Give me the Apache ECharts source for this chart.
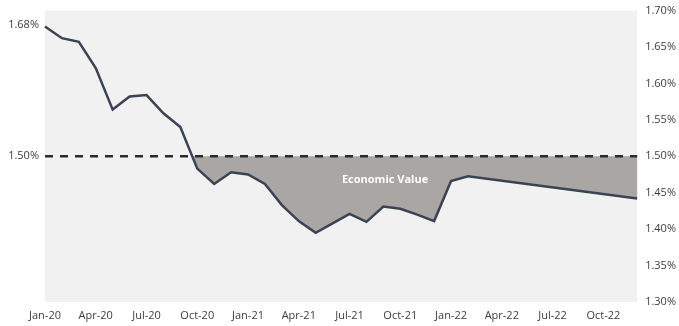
<!DOCTYPE html>
<html>
<head>
<meta charset="utf-8">
<script src="https://cdn.jsdelivr.net/npm/echarts@6/dist/echarts.min.js"></script>
<style>
  html, body { margin: 0; padding: 0; background: #ffffff; }
  #chart { width: 679px; height: 326px; }
</style>
</head>
<body>
<div id="chart"></div>
<script>
// Monthly rate, Jan-20 to Dec-22 (null = no reading that month; line runs straight through)
const months = [
  'Jan-20','Feb-20','Mar-20','Apr-20','May-20','Jun-20','Jul-20','Aug-20','Sep-20','Oct-20','Nov-20','Dec-20',
  'Jan-21','Feb-21','Mar-21','Apr-21','May-21','Jun-21','Jul-21','Aug-21','Sep-21','Oct-21','Nov-21','Dec-21',
  'Jan-22','Feb-22','Mar-22','Apr-22','May-22','Jun-22','Jul-22','Aug-22','Sep-22','Oct-22','Nov-22','Dec-22'
];
const rate = [
  1.678, 1.662, 1.657, 1.621, 1.564, 1.582, 1.584, 1.559, 1.540, 1.483, 1.462, 1.478,
  1.475, 1.462, 1.433, 1.411, 1.395, 1.408, 1.421, 1.410, 1.431, 1.428, 1.420, 1.411,
  1.466, 1.4725, null, null, null, null, null, null, null, null, null, 1.442
];
const tickLabels = ['Jan-20','Apr-20','Jul-20','Oct-20','Jan-21','Apr-21','Jul-21','Oct-21','Jan-22','Apr-22','Jul-22','Oct-22'];
const rightTicks = [1.30, 1.35, 1.40, 1.45, 1.50, 1.55, 1.60, 1.65, 1.70];
const leftTicks = [1.68, 1.50];
const hurdle = 1.50;
const shadeLabel = 'Economic Value';

// Points of the rate line as [monthIndex, value]
const pts = [];
rate.forEach((v, i) => { if (v != null) pts.push([i, v]); });

// Region below the hurdle: rate clipped at the hurdle, with exact crossing points added
const shade = [];
for (let k = 0; k < pts.length; k++) {
  const [x, v] = pts[k];
  if (k > 0) {
    const [px, pv] = pts[k - 1];
    if ((pv - hurdle) * (v - hurdle) < 0) {
      const t = (hurdle - pv) / (v - pv);
      shade.push([px + t * (x - px), hurdle]);
    }
  }
  shade.push([x, Math.min(v, hurdle)]);
}

const font = 'Open Sans, sans-serif';
const txt = '#3d3d3d';

const chart = echarts.init(document.getElementById('chart'), null, { renderer: 'canvas' });
chart.setOption({
  animation: false,
  grid: {
    left: 45, right: 39, top: 10.5, bottom: 24,
    show: true, backgroundColor: '#f1f1f1', borderWidth: 0
  },
  xAxis: {
    type: 'value', min: 0, max: months.length - 1, interval: 3,
    axisLine: { show: false }, axisTick: { show: false }, splitLine: { show: false },
    axisLabel: {
      color: txt, fontFamily: font, fontSize: 11, margin: 8,
      showMaxLabel: false,
      formatter: v => tickLabels[v / 3] || ''
    }
  },
  yAxis: [
    {
      type: 'value', min: 1.30, max: 1.70, position: 'left',
      axisLine: { show: false }, axisTick: { show: false }, splitLine: { show: false },
      axisLabel: {
        customValues: leftTicks, color: txt, fontFamily: font, fontSize: 11, margin: 6,
        formatter: v => v.toFixed(2) + '%'
      }
    },
    {
      type: 'value', min: 1.30, max: 1.70, interval: 0.05, position: 'right',
      axisLine: { show: false }, axisTick: { show: false }, splitLine: { show: false },
      axisLabel: {
        color: txt, fontFamily: font, fontSize: 11, margin: 8,
        formatter: v => v.toFixed(2) + '%'
      }
    }
  ],
  series: [
    {
      name: 'shade', type: 'line', data: shade, symbol: 'none', silent: true,
      lineStyle: { width: 0 },
      areaStyle: { color: '#aaa6a4', opacity: 1, origin: hurdle },
      z: 1,
      markPoint: {
        symbol: 'circle', symbolSize: 0,
        data: [{ coord: [20.1, 1.467], value: shadeLabel }],
        label: {
          show: true, position: 'inside', formatter: shadeLabel,
          color: '#ffffff', fontFamily: font, fontSize: 11, fontWeight: 'bold'
        }
      }
    },
    {
      name: 'hurdle', type: 'line', data: [[0, hurdle], [months.length - 1, hurdle]],
      symbol: 'none', silent: true,
      lineStyle: { color: '#2b2b2b', width: 2.5, type: [8, 7] },
      z: 2
    },
    {
      name: 'rate', type: 'line', data: pts, symbol: 'none',
      lineStyle: { color: '#3a4254', width: 2.5, join: 'miter' },
      z: 3
    }
  ]
});
</script>
</body>
</html>
